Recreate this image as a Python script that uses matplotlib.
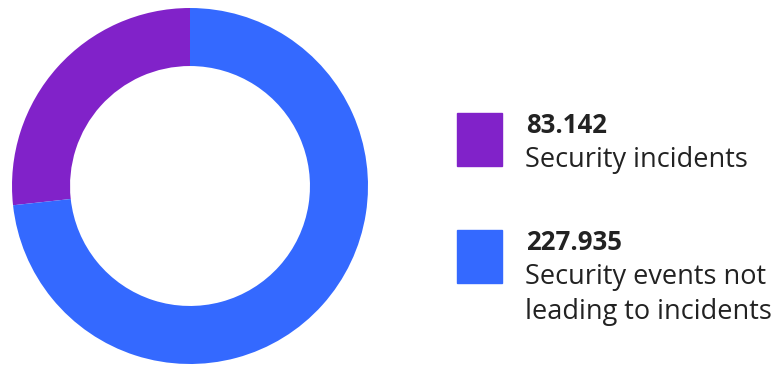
import matplotlib.pyplot as plt
from matplotlib.patches import Rectangle

# Security events breakdown
values = [83.142, 227.935]
value_labels = ['83.142', '227.935']
categories = [['Security incidents'], ['Security events not', 'leading to incidents']]
colors = ['#8122C9', '#3469FF']

W, H = 783, 365
fig = plt.figure(figsize=(W / 100, H / 100), dpi=100)
plt.rcParams['font.family'] = ['Open Sans', 'DejaVu Sans']

# Donut: centre (190, 186) px, outer radius 178 px
cx, cy, r = 190, 186, 178
ax = fig.add_axes([(cx - r) / W, (H - cy - r) / H, 2 * r / W, 2 * r / H])
ax.pie(values, colors=colors, startangle=90, counterclock=True, radius=1,
       wedgeprops=dict(width=0.326, linewidth=0))
ax.set_xlim(-1, 1)
ax.set_ylim(-1, 1)
ax.set_aspect('equal')
ax.axis('off')

# Legend: coloured squares with value and label lines next to them
box_tops = [113, 230]
text_color = '#222222'
line_gap = 35
for top, color, val, cat in zip(box_tops, colors, value_labels, categories):
    fig.patches.append(Rectangle((457 / W, (H - top - 53) / H), 45 / W, 53 / H,
                                 transform=fig.transFigure, color=color))
    fig.text(526 / W, (H - top - 20) / H, val, fontsize=18.5, fontweight='bold',
             color=text_color, va='baseline', ha='left')
    for i, line in enumerate(cat):
        y = top + 54 + i * line_gap
        fig.text(525 / W, (H - y) / H, line, fontsize=19.5, color=text_color,
                 va='baseline', ha='left')

fig.savefig('out.png', dpi=100)
